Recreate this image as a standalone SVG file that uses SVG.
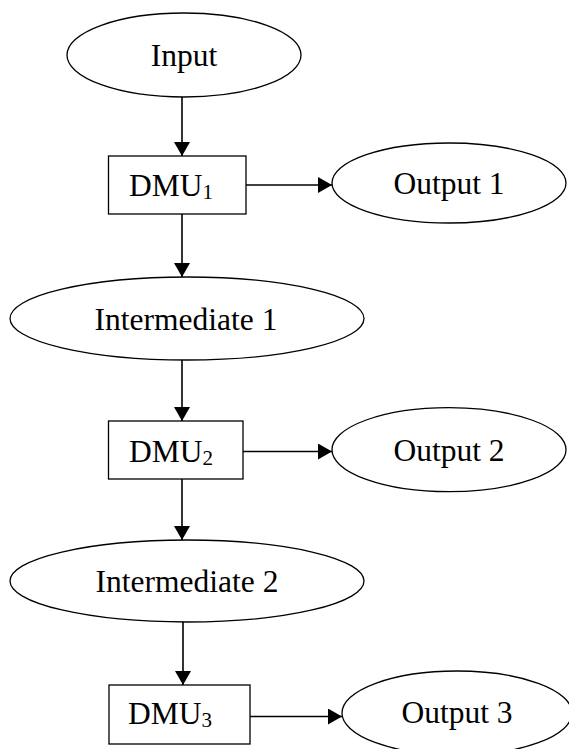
<svg xmlns="http://www.w3.org/2000/svg" width="569" height="749" viewBox="0 0 569 749">
<defs>
<marker id="ah" markerUnits="userSpaceOnUse" markerWidth="14" markerHeight="16" refX="14" refY="8" orient="auto">
<path d="M0,0 L14,8 L0,16 Z" fill="#000"/>
</marker>
<style>
.n{fill:#fff;stroke:#000;stroke-width:1.3}
.t{font-family:"Liberation Serif","Times New Roman",serif;font-size:31.5px;fill:#000}
.s{font-size:21px}
.c line{stroke:#000;stroke-width:1.6;marker-end:url(#ah)}
</style>
</defs>
<rect width="569" height="749" fill="#fff"/>
<g class="c" id="connectors">
<line x1="182" y1="97" x2="182" y2="156"/>
<line x1="182" y1="214" x2="182" y2="277"/>
<line x1="182" y1="360" x2="182" y2="421"/>
<line x1="182" y1="479" x2="182" y2="540"/>
<line x1="183" y1="622" x2="183" y2="685"/>
<line x1="246" y1="185" x2="332" y2="185"/>
<line x1="243" y1="451.5" x2="332" y2="451.5"/>
<line x1="250" y1="716.5" x2="342" y2="716.5"/>
</g>
<g id="input"><ellipse class="n" cx="184" cy="55" rx="117" ry="42"/><text class="t" x="184" y="66" text-anchor="middle">Input</text></g>
<g id="dmu1"><rect class="n" x="108.5" y="156" width="137.5" height="58"/><text class="t" x="129" y="196">DMU<tspan class="s" dy="3">1</tspan></text></g>
<g id="output1"><ellipse class="n" cx="449" cy="183" rx="117" ry="40"/><text class="t" x="449" y="194" text-anchor="middle">Output 1</text></g>
<g id="intermediate1"><ellipse class="n" cx="187" cy="318.5" rx="177" ry="41.5"/><text class="t" x="186" y="330" text-anchor="middle">Intermediate 1</text></g>
<g id="dmu2"><rect class="n" x="108.5" y="421" width="134.5" height="58"/><text class="t" x="129" y="461.5">DMU<tspan class="s" dy="3">2</tspan></text></g>
<g id="output2"><ellipse class="n" cx="449" cy="449.7" rx="117" ry="42"/><text class="t" x="449" y="460.5" text-anchor="middle">Output 2</text></g>
<g id="intermediate2"><ellipse class="n" cx="187" cy="581" rx="177" ry="41"/><text class="t" x="187" y="592" text-anchor="middle">Intermediate 2</text></g>
<g id="dmu3"><rect class="n" x="109" y="685" width="141" height="59"/><text class="t" x="128" y="724">DMU<tspan class="s" dy="3">3</tspan></text></g>
<g id="output3"><ellipse class="n" cx="457" cy="713" rx="115" ry="42"/><text class="t" x="457" y="723" text-anchor="middle">Output 3</text></g>
</svg>
